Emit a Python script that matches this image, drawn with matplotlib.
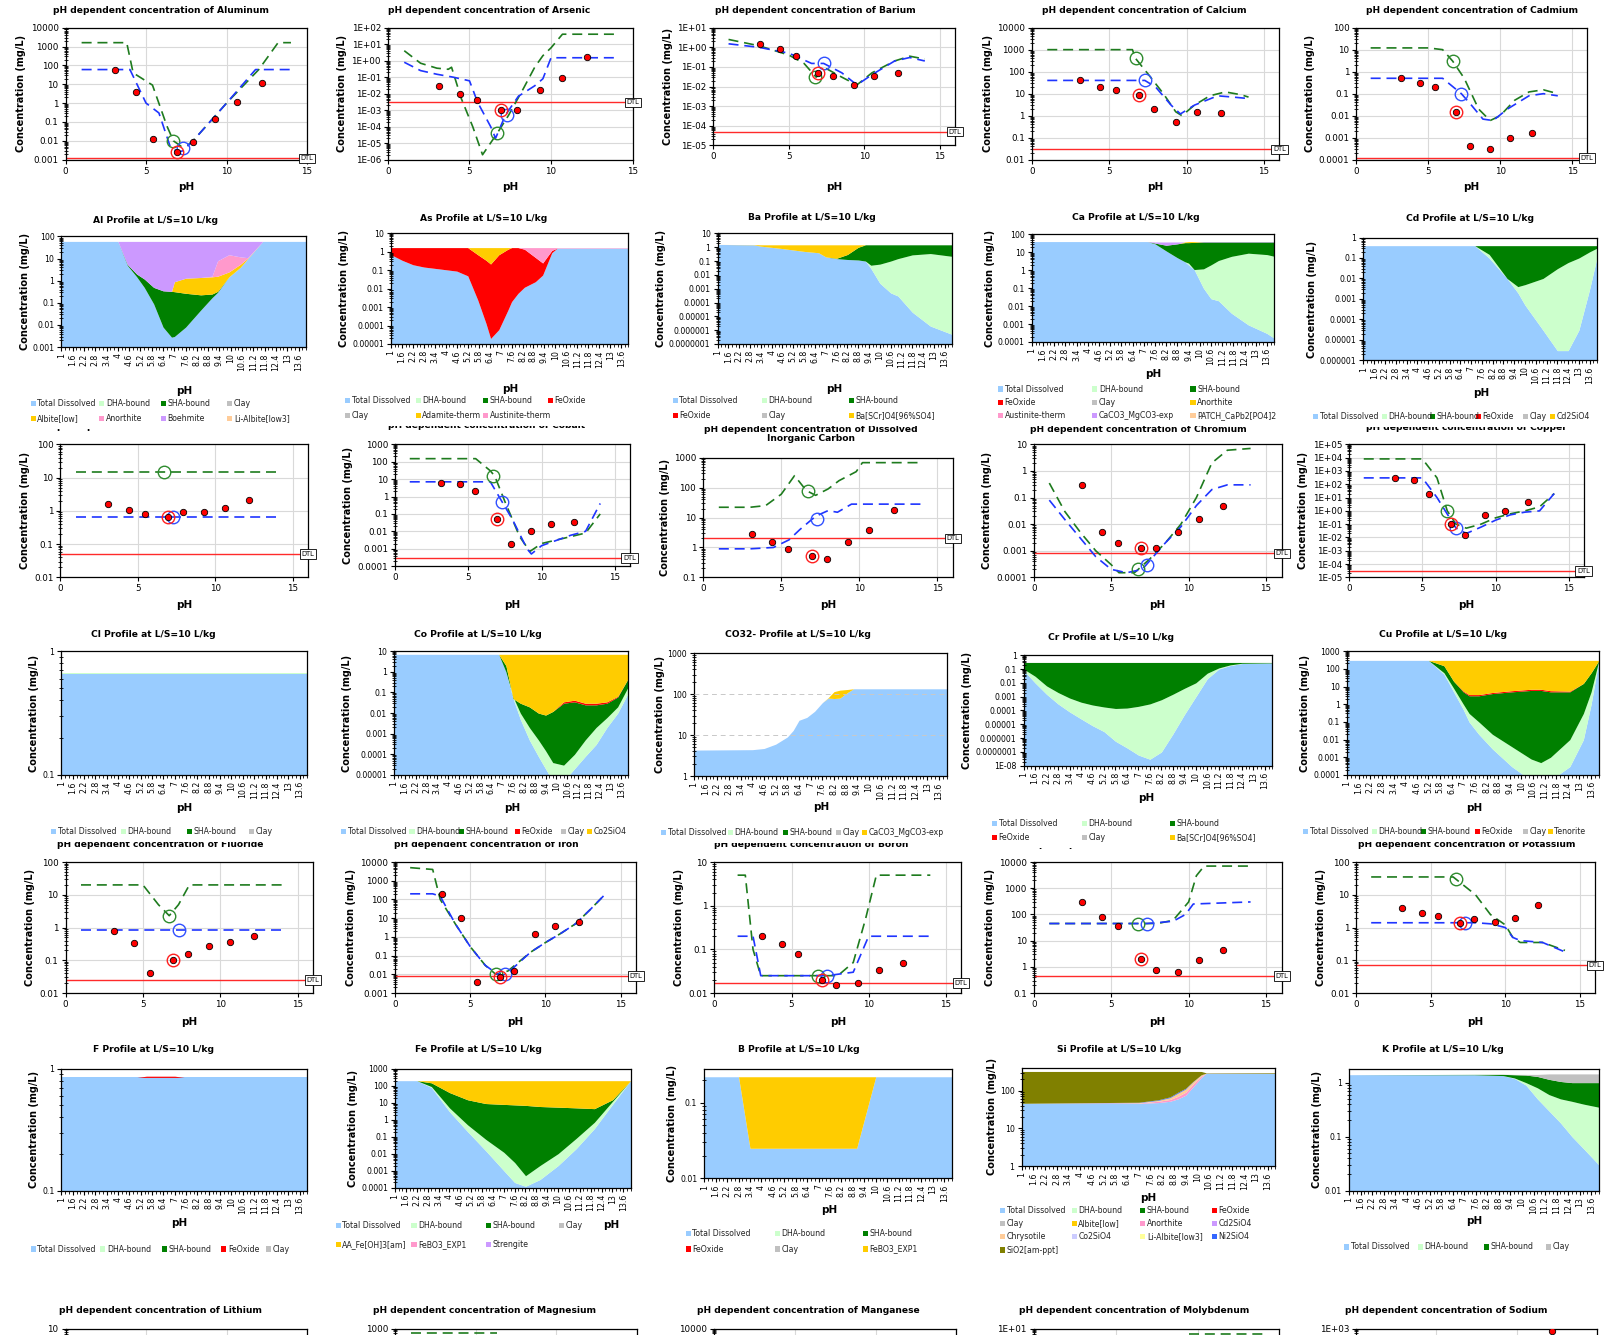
import numpy as np
import matplotlib
matplotlib.use("Agg")
import matplotlib.pyplot as plt
from matplotlib.patches import Rectangle
from matplotlib.ticker import FixedLocator, FuncFormatter, NullFormatter

# ---------------------------------------------------------------- data
# pH of the measured leachates (red dots)
ph_meas = [3.1, 4.4, 5.45, 6.95, 7.9, 9.3, 10.65, 12.2]

# --- pH dependent concentration panels: model lines (green / blue), measured, circles, DTL
al_g_ph = [1, 3.8, 4.2, 5.4, 6.3, 6.7, 7.2, 7.6, 8.0, 10.0, 12.0, 13.2, 14]
al_g = [1600, 1600, 40, 9, 0.06, 0.01, 0.005, 0.006, 0.012, 1, 60, 1600, 1600]
al_b_ph = [1, 4.0, 5.0, 5.8, 6.5, 7.0, 7.3, 8.0, 10.0, 11.8, 14]
al_b = [60, 60, 1, 0.3, 0.005, 0.0025, 0.003, 0.012, 1, 60, 60]
al_meas = [60, 4, 0.013, 0.0025, 0.009, 0.15, 1.2, 12]
al_circ = [0.01, 0.004]
al_dtl = 0.0012

as_g_ph = [1, 2, 3, 3.7, 3.9, 4.5, 5.2, 5.8, 6.7, 7.4, 8.3, 9.0, 9.5, 10.0, 10.7, 14]
as_g = [4, 0.7, 0.35, 0.3, 0.4, 0.005, 1e-4, 2e-6, 4e-5, 5e-4, 0.02, 0.4, 2, 6, 40, 40]
as_b_ph = [1, 2, 3, 4, 5, 5.5, 6.3, 6.6, 7.2, 8.0, 9.0, 9.5, 10.0, 14]
as_b = [0.8, 0.25, 0.15, 0.1, 0.06, 0.003, 1e-4, 2e-5, 5e-4, 0.007, 0.03, 0.08, 1.5, 1.5]
as_meas = [0.03, 0.009, 0.004, 0.0011, 0.0011, 0.016, 0.09, 1.7]
as_circ = [4e-5, 5e-4]
as_dtl = 0.003

ba_g_ph = [1, 3, 5, 6, 6.8, 7.5, 8.5, 9.5, 10.5, 12, 13, 14]
ba_g = [2.5, 1.2, 0.4, 0.15, 0.03, 0.08, 0.03, 0.012, 0.05, 0.2, 0.35, 0.25]
ba_b_ph = [1, 3, 5, 6.5, 7.3, 8.5, 9.5, 10.5, 12, 13, 14]
ba_b = [1.5, 1.0, 0.5, 0.15, 0.15, 0.05, 0.012, 0.04, 0.2, 0.3, 0.2]
ba_meas = [1.5, 0.8, 0.35, 0.05, 0.035, 0.012, 0.035, 0.05]
ba_circ = [0.03, 0.15]
ba_dtl = 5e-5

ca_g_ph = [1, 6.5, 6.7, 7.5, 8.5, 9.3, 9.7, 10.5, 11.5, 12.5, 13.5, 14]
ca_g = [1000, 1000, 400, 80, 10, 1.5, 1.0, 3, 8, 12, 9, 7]
ca_b_ph = [1, 7.0, 7.3, 8.0, 9.0, 9.6, 10.5, 12, 13, 14]
ca_b = [40, 40, 40, 20, 3, 1.2, 3, 8, 7, 6]
ca_meas = [40, 20, 15, 9, 2, 0.5, 1.5, 1.3]
ca_circ = [400, 40]
ca_dtl = 0.03

cd_g_ph = [1, 5, 6, 6.7, 7.5, 8.5, 9.3, 10, 11, 12, 13, 14]
cd_g = [12, 12, 10, 3, 0.5, 0.02, 0.006, 0.01, 0.05, 0.12, 0.15, 0.1]
cd_b_ph = [1, 6, 7.3, 8, 8.8, 9.5, 10.5, 12, 13, 14]
cd_b = [0.5, 0.5, 0.1, 0.03, 0.007, 0.006, 0.02, 0.08, 0.1, 0.08]
cd_meas = [0.5, 0.3, 0.2, 0.015, 0.0004, 0.0003, 0.001, 0.0017]
cd_circ = [3, 0.1]
cd_dtl = 0.00012

cl_g_ph = [1, 14]
cl_g = [15, 15]
cl_b_ph = [1, 14]
cl_b = [0.65, 0.65]
cl_meas = [1.6, 1.05, 0.8, 0.65, 0.9, 0.9, 1.2, 2.1]
cl_circ = [15, 0.65]
cl_dtl = 0.05

co_g_ph = [1, 5.5, 6.5, 6.8, 7.5, 8.5, 9.2, 10, 12, 13, 14]
co_g = [150, 150, 30, 15, 0.5, 0.005, 0.0007, 0.002, 0.005, 0.008, 0.1]
co_b_ph = [1, 6.5, 7.3, 8, 9, 9.3, 10, 12, 13, 14]
co_b = [7, 7, 0.5, 0.05, 0.001, 0.0005, 0.0015, 0.006, 0.01, 0.4]
co_meas = [6, 5, 2, 0.05, 0.002, 0.01, 0.025, 0.035]
co_circ = [15, 0.5]
co_dtl = 0.0003

dic_g_ph = [1, 3, 4, 5, 5.85, 6.6, 7.2, 8.0, 8.7, 9.8, 10.2, 14]
dic_g = [22, 22, 25, 60, 250, 80, 55, 90, 170, 340, 680, 680]
dic_b_ph = [1, 3, 4.5, 5.5, 6.2, 7.0, 7.5, 8.0, 8.6, 9.5, 14]
dic_b = [0.9, 0.9, 1.0, 1.8, 4, 9, 13, 17, 15, 28, 28]
dic_meas = [2.8, 1.5, 0.9, 0.5, 0.4, 1.5, 3.8, 18]
dic_circ = [75, 9]
dic_dtl = 2

cr_g_ph = [1, 2, 3, 4, 5, 5.5, 6.5, 7.5, 8.5, 9.5, 10.5, 11.5, 12.5, 14]
cr_g = [0.35, 0.03, 0.005, 0.001, 0.0003, 0.00015, 0.00015, 0.0005, 0.002, 0.01, 0.1, 2, 6, 7]
cr_b_ph = [1, 2, 3, 4, 5, 6, 7, 8.5, 9.5, 10.5, 11.5, 12.5, 14]
cr_b = [0.08, 0.015, 0.003, 0.0006, 0.0002, 0.00015, 0.0002, 0.002, 0.008, 0.05, 0.2, 0.3, 0.3]
cr_meas = [0.3, 0.005, 0.002, 0.0013, 0.0013, 0.005, 0.015, 0.05]
cr_circ = [0.0002, 0.0003]
cr_dtl = 0.0008

cu_g_ph = [1, 5, 6, 6.7, 7.3, 8, 9, 10, 11, 12, 13, 14]
cu_g = [8000, 8000, 300, 1, 0.1, 0.05, 0.1, 0.3, 0.6, 1, 2, 20]
cu_b_ph = [1, 5, 6, 7.3, 8, 9, 10, 11, 12, 13, 14]
cu_b = [300, 300, 10, 0.05, 0.02, 0.06, 0.2, 0.5, 0.8, 1, 20]
cu_meas = [300, 200, 20, 0.1, 0.015, 0.5, 1, 5]
cu_circ = [1, 0.05]
cu_dtl = 3e-5

f_g_ph = [1, 5, 6, 6.7, 7.3, 8, 14]
f_g = [20, 20, 5, 2.3, 5, 20, 20]
f_b_ph = [1, 14]
f_b = [0.85, 0.85]
f_meas = [0.8, 0.33, 0.04, 0.1, 0.16, 0.28, 0.35, 0.55]
f_circ = [2.3, 0.85]
f_dtl = 0.025

fe_g_ph = [1, 2.5, 3, 4, 5, 6, 6.7, 7.5, 9, 10, 11, 12, 13, 14]
fe_g = [5000, 4000, 100, 5, 0.3, 0.03, 0.01, 0.015, 0.15, 0.5, 1.5, 5, 30, 200]
fe_b_ph = [1, 2.5, 3, 4, 5, 6, 7, 7.5, 9, 10, 11, 12, 13, 14]
fe_b = [200, 200, 150, 5, 0.3, 0.03, 0.008, 0.012, 0.15, 0.5, 1.5, 5, 30, 200]
fe_meas = [200, 10, 0.004, 0.007, 0.015, 1.5, 4, 6]
fe_circ = [0.01, 0.01]
fe_dtl = 0.008

b_g_ph = [1.5, 2, 2.5, 3, 6.7, 8, 9, 9.8, 10.5, 14]
b_g = [5, 5, 0.1, 0.025, 0.025, 0.025, 0.05, 0.5, 5, 5]
b_b_ph = [1.5, 2.5, 3, 7.3, 9, 10, 14]
b_b = [0.2, 0.2, 0.025, 0.025, 0.03, 0.2, 0.2]
b_meas = [0.2, 0.13, 0.08, 0.02, 0.015, 0.017, 0.033, 0.05]
b_circ = [0.025, 0.025]
b_dtl = 0.017

si_g_ph = [1, 8, 9, 10, 10.5, 11, 14]
si_g = [45, 45, 60, 300, 3000, 7000, 7000]
si_b_ph = [1, 7.3, 9, 9.8, 10.3, 14]
si_b = [45, 45, 55, 100, 250, 300]
si_meas = [300, 80, 35, 2, 0.75, 0.65, 1.8, 4.5]
si_circ = [45, 45]
si_dtl = 0.45

k_g_ph = [1, 6.5, 8, 9, 10, 10.5, 11, 12.5, 14]
k_g = [35, 35, 10, 2.5, 1.2, 0.5, 0.35, 0.35, 0.2]
k_b_ph = [1, 8, 9, 10, 10.5, 11, 12.5, 14]
k_b = [1.4, 1.4, 1.3, 1.0, 0.5, 0.4, 0.35, 0.18]
k_meas = [4, 2.8, 2.3, 1.4, 1.8, 1.5, 2, 5]
k_circ = [30, 1.4]
k_dtl = 0.07

# bottom row, only the top edge is inside the picture
mg_g_ph = [1, 6.3]
mg_g = [700, 700]
mo_g_ph = [9.5, 14]
mo_g = [6, 6]
na_meas_ph = [12.2]
na_meas = [800]

# --- profiles at L/S=10 L/kg: upper edge of each stacked layer (mg/L)
al_px = [1, 4.0, 4.5, 5.0, 5.4, 5.9, 6.4, 6.85, 7.0, 7.6, 8.4, 9.0, 9.3, 9.9, 10.5, 10.9, 11.7, 14]
al_td = [60, 60, 5, 1.5, 0.5, 0.09, 0.008, 0.0028, 0.003, 0.008, 0.047, 0.17, 0.3, 1.5, 4, 10, 60, 60]
al_sha = [60, 60, 5.5, 2, 1.2, 0.5, 0.35, 0.33, 0.32, 0.27, 0.23, 0.25, 0.33, 1.5, 4, 10, 60, 60]
al_albite = [60, 60, 5.5, 2, 1.2, 0.5, 0.35, 0.33, 0.9, 1.3, 1.4, 1.5, 1.6, 2.5, 5.5, 10.5, 60, 60]
al_anorth = [60, 60, 5.5, 2, 1.2, 0.5, 0.35, 0.33, 0.9, 1.3, 1.4, 1.6, 8, 15, 12, 11, 60, 60]
al_boehm = [60] * 18

as_px = [1, 1.6, 2.2, 2.8, 3.6, 4.6, 5.2, 5.75, 6.2, 6.45, 6.9, 7.4, 7.6, 7.95, 8.3, 8.9, 9.3, 9.8, 10.1, 14]
as_td = [0.7, 0.35, 0.2, 0.15, 0.12, 0.09, 0.05, 0.0024, 1.3e-4, 2e-5, 6e-5, 7e-4, 0.002, 0.0056, 0.012, 0.024, 0.055, 0.9, 1.6, 1.6]
as_feox = [1.7, 1.7, 1.7, 1.7, 1.7, 1.7, 1.7, 0.7, 0.35, 0.22, 0.7, 1.4, 1.7, 1.7, 1.4, 0.5, 0.25, 1.2, 1.6, 1.6]
as_adam = [1.7, 1.7, 1.7, 1.7, 1.7, 1.7, 1.7, 1.7, 1.7, 1.7, 1.7, 1.7, 1.7, 1.7, 1.4, 0.5, 0.25, 1.2, 1.6, 1.6]
as_aust = [1.7] * 20

ba_px = [1, 3, 3.4, 4.6, 5.8, 6.6, 7.0, 7.6, 8.2, 8.8, 9.2, 9.5, 10.0, 10.6, 11.0, 11.8, 12.8, 14]
ba_td = [1.6, 1.5, 1.2, 0.8, 0.5, 0.4, 0.2, 0.15, 0.13, 0.12, 0.1, 0.03, 0.0025, 5e-4, 3e-4, 2e-5, 2e-6, 5e-7]
ba_dha = [1.6, 1.5, 1.2, 0.8, 0.5, 0.4, 0.2, 0.15, 0.13, 0.12, 0.1, 0.05, 0.06, 0.1, 0.15, 0.28, 0.35, 0.22]
ba_sha = [1.6, 1.5, 1.2, 0.8, 0.5, 0.4, 0.2, 0.16, 0.3, 1.0, 1.5, 1.5, 1.5, 1.5, 1.5, 1.5, 1.5, 1.5]
ba_barite = [1.6, 1.55, 1.5, 1.5, 1.5, 1.5, 1.5, 1.5, 1.5, 1.5, 1.5, 1.5, 1.5, 1.5, 1.5, 1.5, 1.5, 1.5]

ca_px = [1, 7.2, 7.6, 8.2, 8.8, 9.2, 9.4, 9.7, 10.2, 10.6, 11.0, 11.7, 12.6, 13.6, 14]
ca_td = [40, 40, 30, 12, 5, 3, 2, 1.1, 0.1, 0.026, 0.02, 0.004, 0.0009, 0.0003, 0.00016]
ca_dha = [40, 40, 30, 12, 5, 3, 2.5, 1.1, 1.2, 2, 3.5, 6, 9, 7.5, 6]
ca_sha = [40, 40, 33, 25, 30, 35, 35, 36, 38, 38, 38, 38, 38, 38, 38]
ca_anorth = [40, 40, 33, 25, 30, 38, 40, 40, 38, 38, 38, 38, 38, 38, 38]
ca_caco3 = [40, 40, 38, 38, 38, 38, 40, 40, 40, 40, 40, 40, 40, 40, 40]

cd_px = [1, 7.2, 8.0, 9.0, 9.6, 10.0, 11.0, 11.8, 12.4, 13.0, 13.6, 14]
cd_td = [0.4, 0.4, 0.1, 0.01, 0.002, 0.0005, 3e-5, 3e-6, 3e-6, 3e-5, 0.003, 0.1]
cd_dha = [0.4, 0.4, 0.15, 0.01, 0.004, 0.005, 0.01, 0.03, 0.06, 0.1, 0.2, 0.3]
cd_sha = [0.4] * 12

cl_px = [1, 14]
cl_td = [0.65, 0.65]
cl_dha = [0.66, 0.66]

co_px = [1, 6.8, 7.2, 7.6, 8.0, 8.5, 9.0, 9.4, 9.8, 10.4, 11.0, 11.6, 12.2, 12.8, 13.4, 14]
co_td = [7, 7, 1, 0.05, 0.005, 5e-4, 8e-5, 2e-5, 5e-6, 5e-6, 2e-5, 8e-5, 3e-4, 0.002, 0.01, 0.1]
co_dha = [7, 7, 1, 0.06, 0.01, 0.002, 5e-4, 1.5e-4, 4e-5, 3e-5, 1e-4, 5e-4, 0.002, 0.006, 0.02, 0.2]
co_sha = [7, 7, 2, 0.05, 0.03, 0.02, 0.01, 0.008, 0.012, 0.03, 0.035, 0.025, 0.025, 0.03, 0.06, 0.5]
co_feox = [7, 7, 2, 0.05, 0.03, 0.02, 0.01, 0.008, 0.012, 0.035, 0.042, 0.03, 0.03, 0.035, 0.065, 0.5]
co_co2sio4 = [7] * 16

co3_px = [1, 4, 4.6, 5.2, 5.8, 6.1, 6.4, 6.8, 7.2, 7.6, 7.9, 8.2, 8.5, 8.9, 9.2, 14]
co3_td = [4.3, 4.4, 4.7, 6, 9, 13, 23, 27, 38, 62, 80, 78, 80, 110, 135, 135]
co3_caco3 = [4.3, 4.4, 4.7, 6, 9, 13, 23, 27, 38, 62, 82, 115, 125, 130, 135, 135]

cr_px = [1, 1.6, 2.2, 2.8, 3.4, 4, 4.6, 5.2, 5.8, 6.4, 7, 7.6, 8.2, 8.8, 9.4, 10, 10.6, 11.2, 11.8, 12.4, 14]
cr_td = [0.08, 0.01, 0.0015, 3e-4, 8e-5, 2.5e-5, 8e-6, 3e-6, 6e-7, 2e-7, 6e-8, 3e-8, 1e-7, 2e-6, 5e-5, 1e-3,
         0.02, 0.1, 0.18, 0.25, 0.28]
cr_dha = [0.1, 0.03, 0.006, 0.002, 8e-4, 4e-4, 2.5e-4, 1.8e-4, 1.4e-4, 1.5e-4, 2e-4, 3e-4, 6e-4, 1.5e-3, 4e-3,
          0.01, 0.05, 0.12, 0.2, 0.26, 0.28]
cr_sha = [0.3] * 21

cu_px = [1, 5.2, 6, 6.5, 7, 7.3, 7.8, 8.5, 9.5, 10.5, 11, 11.5, 12.5, 13.2, 13.6, 14]
cu_td = [300, 300, 50, 5, 0.5, 0.1, 0.02, 0.003, 3e-4, 5e-5, 3e-5, 5e-5, 3e-4, 0.01, 1, 300]
cu_dha = [300, 300, 60, 8, 1, 0.3, 0.1, 0.02, 0.004, 0.0008, 0.0005, 0.001, 0.01, 0.3, 5, 300]
cu_sha = [300, 300, 150, 20, 5, 3, 3, 4, 5, 6, 6, 5, 5, 15, 60, 300]
cu_feox = [300, 300, 150, 20, 5.5, 3.5, 3.5, 4.6, 5.8, 7, 7, 5.8, 5.5, 15, 60, 300]
cu_tenor = [300] * 16

f_px = [1, 5, 5.5, 7, 7.5, 14]
f_td = [0.85, 0.85, 0.85, 0.85, 0.85, 0.85]
f_feox = [0.85, 0.85, 0.87, 0.87, 0.85, 0.85]

fe_px = [1, 2.2, 3, 4, 5, 6, 7, 7.6, 8.2, 9, 10, 11, 12, 13, 14]
fe_td = [200, 200, 80, 3, 0.2, 0.015, 0.001, 0.0002, 0.00012, 0.0003, 0.002, 0.02, 0.3, 8, 200]
fe_dha = [200, 200, 90, 5, 0.5, 0.07, 0.012, 0.003, 0.0005, 0.002, 0.01, 0.08, 0.7, 12, 200]
fe_sha = [200, 200, 150, 40, 15, 9, 8, 7.5, 7, 6, 5.5, 5, 4.5, 15, 200]
fe_aa = [200] * 15

b_px = [1, 2.8, 3.4, 9.0, 10.0, 14]
b_td = [0.22, 0.22, 0.025, 0.025, 0.22, 0.22]
b_febo3 = [0.22] * 6

si_px = [1, 7, 8.0, 8.6, 9.0, 9.4, 9.8, 10.2, 10.45, 14]
si_td = [46, 46, 48, 52, 60, 75, 128, 220, 285, 285]
si_anorth = [46, 47, 52, 58, 70, 90, 150, 240, 287, 287]
si_chrys = [46, 48, 55, 65, 85, 110, 175, 260, 288, 288]
si_ni = [46, 49, 57, 68, 90, 115, 178, 262, 289, 289]
si_sio2 = [320, 320, 320, 320, 320, 320, 320, 320, 295, 300]

k_px = [1, 7.5, 9, 9.6, 10.2, 10.8, 11.4, 12, 12.6, 13.2, 14]
k_td = [1.4, 1.4, 1.35, 1.2, 0.9, 0.5, 0.3, 0.18, 0.1, 0.06, 0.03]
k_dha = [1.4, 1.4, 1.35, 1.22, 1.0, 0.8, 0.6, 0.5, 0.45, 0.4, 0.35]
k_sha = [1.4, 1.42, 1.42, 1.4, 1.38, 1.3, 1.15, 1.05, 1.0, 1.0, 1.0]
k_clay = [1.4, 1.42, 1.43, 1.42, 1.42, 1.42, 1.45, 1.45, 1.45, 1.45, 1.45]

# ---------------------------------------------------------------- colours
TD, DHA, SHA, FEOX, CLAY = "#99CCFF", "#CCFFCC", "#008000", "#FF0000", "#C0C0C0"
YEL, PINK, LAV, PEACH = "#FFCC00", "#FF99CC", "#CC99FF", "#FFCC99"
LYEL, LBLUE, NIB, OLIVE = "#FFFF99", "#CCCCFF", "#3366FF", "#808000"
GREEN_L, BLUE_L = "#1E7B1E", "#1F35FF"

# ---------------------------------------------------------------- layout helpers
W, H = 1568.0, 1304.0   # positions below in these units
fig = plt.figure(figsize=(16.05, 13.35), dpi=100)
fig.patch.set_facecolor("white")


def rect(l, t, r, b):
    return [l / W, 1 - b / H, (r - l) / W, (b - t) / H]


def fxy(x, y):
    return x / W, 1 - y / H


def fmt_sci(v, pos=None):
    return f"1E{int(round(np.log10(v))):+03d}"


def fmt_plain(v, pos=None):
    if v < 1e-7 * 0.99:
        return fmt_sci(v)
    if v >= 1:
        return f"{v:.0f}"
    n = int(round(-np.log10(v)))
    return f"{v:.{n}f}"


def log_axis(ax, ylim, sci, size, top_only=False):
    lo, hi = np.log10(ylim[0]), np.log10(ylim[1])
    dec = 10.0 ** np.arange(np.floor(lo + 1e-9), np.floor(hi + 1e-9) + 1)
    minors = [d * s for d in dec for s in range(2, 10) if ylim[0] < d * s < ylim[1]]
    base = fmt_sci if sci else fmt_plain
    if top_only:
        fmt = lambda v, pos=None: base(v) if abs(np.log10(v) - hi) < 1e-6 else ""
    else:
        fmt = base
    ax.yaxis.set_major_locator(FixedLocator(dec))
    ax.yaxis.set_minor_locator(FixedLocator(minors))
    ax.yaxis.set_major_formatter(FuncFormatter(fmt))
    ax.yaxis.set_minor_formatter(NullFormatter())
    ax.tick_params(axis="y", which="major", labelsize=size, length=3, width=0.8, pad=2)
    ax.tick_params(axis="y", which="minor", length=2.5, width=0.6, direction="inout")
    for s in ax.spines.values():
        s.set_linewidth(0.9)


def title(text, xy, size=6.6):
    fig.text(*fxy(*xy), text, ha="center", va="center", fontsize=size,
             fontweight="bold", zorder=1.5, linespacing=1.1)


def xlabel(xy):
    fig.text(*fxy(*xy), "pH", ha="center", va="center", fontsize=7.5,
             fontweight="bold", zorder=4)


def line_panel(box, ylim, xmax, sci, name, title_xy, xlab_y, green=None, blue=None,
               meas=None, circ=None, dtl=None, meas_ph=ph_meas, cut=False):
    ax = fig.add_axes(rect(*box))
    ax.set_yscale("log")
    ax.set_xlim(0, xmax)
    ax.set_ylim(*ylim)
    log_axis(ax, ylim, sci, 6.3, top_only=cut)
    ax.set_xticks([0, 5, 10, 15])
    ax.tick_params(axis="x", labelsize=6.3, length=3, pad=2, labelbottom=not cut)
    ax.grid(True, which="major", color="#D9D9D9", lw=0.8)
    ax.set_axisbelow(True)
    if dtl is not None:
        ax.axhline(dtl, color="#FF2A2A", lw=1.0, zorder=2)
        ax.annotate("DTL", xy=(1, dtl), xycoords=("axes fraction", "data"), ha="center",
                    va="center", fontsize=4.8, annotation_clip=False, zorder=6,
                    bbox=dict(boxstyle="square,pad=0.25", fc="white", ec="black", lw=0.6))
    dash = (0, (6, 3.5))
    if green is not None:
        ax.plot(green[0], green[1], color=GREEN_L, lw=1.2, ls=dash, zorder=3)
    if blue is not None:
        ax.plot(blue[0], blue[1], color=BLUE_L, lw=1.2, ls=dash, zorder=3)
    if circ is not None:
        ax.plot([6.7], [circ[0]], "o", ms=9, mfc="none", mec="#2E8B2E", mew=1.0, zorder=4)
        ax.plot([7.3], [circ[1]], "o", ms=9, mfc="none", mec="#3050FF", mew=1.0, zorder=4)
    if meas is not None:
        ax.plot(meas_ph, meas, "o", ms=4.6, mfc="#FF0000", mec="black", mew=0.6,
                ls="none", zorder=5)
        if len(meas) > 3:
            ax.plot([meas_ph[3]], [meas[3]], "o", ms=9, mfc="none", mec="#FF2020",
                    mew=1.0, zorder=5)
    title(name, title_xy)
    if not cut:
        ax.set_ylabel("Concentration (mg/L)", fontsize=7, fontweight="bold", labelpad=3)
        xlabel(((box[0] + box[2]) / 2, xlab_y))
    return ax


def legend(entries, xs, ys):
    x0, x1 = xs[0] - 7, xs[-1] + 82
    y0, y1 = ys[0] - 8, ys[-1] + 10
    fig.patches.append(Rectangle(fxy(x0, y1), (x1 - x0) / W, (y1 - y0) / H,
                                 transform=fig.transFigure, fc="white", ec="none", zorder=2))
    for i, (lab, col) in enumerate(entries):
        x = xs[i % len(xs)]
        y = ys[i // len(xs)]
        fig.patches.append(Rectangle(fxy(x, y + 2.5), 5 / W, 5 / H, transform=fig.transFigure,
                                     fc=col, ec="none", zorder=3))
        fig.text(*fxy(x + 6.5, y), lab, fontsize=5.6, ha="left", va="center", zorder=3,
                 color="#222222")


def profile_panel(box, ylim, x, layers, name, title_xy, xlab_xy, entries, xs, ys,
                  dashed=None):
    ax = fig.add_axes(rect(*box))
    ax.set_yscale("log")
    prev = [ylim[0]] * len(x)
    for top, col in layers:
        ax.fill_between(x, prev, top, color=col, lw=0)
        prev = top
    ax.set_xlim(1, 14)
    ax.set_ylim(*ylim)
    log_axis(ax, ylim, False, 5.6)
    if dashed:
        for v in dashed:
            ax.axhline(v, color="#C8C8C8", lw=0.7, ls=(0, (5, 4)), zorder=3)
    major = np.round(np.arange(1, 13.7, 0.6), 1)
    ax.set_xticks(major)
    ax.set_xticklabels([f"{v:g}" for v in major], rotation=90)
    ax.set_xticks(np.round(np.arange(1, 14.01, 0.2), 1), minor=True)
    ax.tick_params(axis="x", which="major", labelsize=5.6, length=3, pad=1.5)
    ax.tick_params(axis="x", which="minor", length=2)
    ax.set_ylabel("Concentration (mg/L)", fontsize=7, fontweight="bold", labelpad=2)
    title(name, title_xy)
    xlabel(xlab_xy)
    legend(entries, xs, ys)
    return ax


# ---------------------------------------------------------------- row 1
line_panel((64, 27, 300, 156), (0.001, 10000), 15, False, "pH dependent concentration of Aluminum",
           (157, 10), 183, (al_g_ph, al_g), (al_b_ph, al_b), al_meas, al_circ, al_dtl)
line_panel((379, 27, 618, 156), (1e-6, 1e2), 15, True, "pH dependent concentration of Arsenic",
           (478, 10), 183, (as_g_ph, as_g), (as_b_ph, as_b), as_meas, as_circ, as_dtl)
line_panel((697, 27, 933, 142), (1e-5, 1e1), 16, True, "pH dependent concentration of Barium",
           (797, 10), 183, (ba_g_ph, ba_g), (ba_b_ph, ba_b), ba_meas, ba_circ, ba_dtl)
line_panel((1008, 27, 1250, 156), (0.01, 10000), 16, False, "pH dependent concentration of Calcium",
           (1118, 10), 183, (ca_g_ph, ca_g), (ca_b_ph, ca_b), ca_meas, ca_circ, ca_dtl)
line_panel((1325, 27, 1550, 156), (0.0001, 100), 16, False, "pH dependent concentration of Cadmium",
           (1438, 10), 183, (cd_g_ph, cd_g), (cd_b_ph, cd_b), cd_meas, cd_circ, cd_dtl)

# ---------------------------------------------------------------- row 3
line_panel((59, 434, 301, 564), (0.01, 100), 16, False, "pH dependent concentration of Chloride",
           (157, 417), 591, (cl_g_ph, cl_g), (cl_b_ph, cl_b), cl_meas, cl_circ, cl_dtl)
line_panel((386, 434, 615, 553), (0.0001, 1000), 16, False, "pH dependent concentration of Cobalt",
           (475, 416), 591, (co_g_ph, co_g), (co_b_ph, co_b), co_meas, co_circ, co_dtl)
line_panel((687, 447, 931, 564), (0.1, 1000), 16, False,
           "pH dependent concentration of Dissolved\nInorganic Carbon",
           (792, 424), 591, (dic_g_ph, dic_g), (dic_b_ph, dic_b), dic_meas, dic_circ, dic_dtl)
line_panel((1010, 434, 1252, 564), (0.0001, 10), 16, False, "pH dependent concentration of Chromium",
           (1112, 420), 591, (cr_g_ph, cr_g), (cr_b_ph, cr_b), cr_meas, cr_circ, cr_dtl)
line_panel((1318, 434, 1547, 564), (1e-5, 1e5), 16, True, "pH dependent concentration of Copper",
           (1433, 418), 591, (cu_g_ph, cu_g), (cu_b_ph, cu_b), cu_meas, cu_circ, cu_dtl)

# ---------------------------------------------------------------- row 5
line_panel((64, 842, 306, 970), (0.01, 100), 16, False, "pH dependent concentration of Fluoride",
           (157, 825), 998, (f_g_ph, f_g), (f_b_ph, f_b), f_meas, f_circ, f_dtl)
line_panel((386, 842, 621, 970), (0.001, 10000), 16, False, "pH dependent concentration of Iron",
           (475, 825), 998, (fe_g_ph, fe_g), (fe_b_ph, fe_b), fe_meas, fe_circ, fe_dtl)
line_panel((698, 842, 939, 970), (0.01, 10), 16, False, "pH dependent concentration of Boron",
           (792, 825), 998, (b_g_ph, b_g), (b_b_ph, b_b), b_meas, b_circ, b_dtl)
line_panel((1010, 842, 1252, 970), (0.1, 10000), 16, False, "pH dependent concentration of Silicon",
           (1112, 825), 998, (si_g_ph, si_g), (si_b_ph, si_b), si_meas, si_circ, si_dtl)
line_panel((1325, 842, 1558, 970), (0.01, 100), 16, False, "pH dependent concentration of Potassium",
           (1433, 825), 998, (k_g_ph, k_g), (k_b_ph, k_b), k_meas, k_circ, k_dtl)

# ---------------------------------------------------------------- row 7 (cut off by the page)
line_panel((64, 1298, 300, 1428), (0.001, 10), 15, False, "pH dependent concentration of Lithium",
           (157, 1280), 1460, cut=True)
line_panel((386, 1298, 622, 1428), (0.01, 1000), 15, False, "pH dependent concentration of Magnesium",
           (473, 1280), 1460, green=(mg_g_ph, mg_g), cut=True)
line_panel((698, 1298, 934, 1428), (0.001, 10000), 15, False, "pH dependent concentration of Manganese",
           (790, 1280), 1460, cut=True)
line_panel((1010, 1298, 1250, 1428), (1e-5, 1e1), 15, True, "pH dependent concentration of Molybdenum",
           (1108, 1280), 1460, green=(mo_g_ph, mo_g), cut=True)
line_panel((1325, 1298, 1560, 1428), (1e-2, 1e3), 15, True, "pH dependent concentration of Sodium",
           (1413, 1280), 1460, meas=na_meas, meas_ph=na_meas_ph, cut=True)

# ---------------------------------------------------------------- row 2 profiles
profile_panel((60, 231, 299, 339), (0.001, 100), al_px,
              [(al_td, TD), (al_sha, SHA), (al_albite, YEL), (al_anorth, PINK), (al_boehm, LAV)],
              "Al Profile at L/S=10 L/kg", (152, 215), (180, 382),
              [("Total Dissolved", TD), ("DHA-bound", DHA), ("SHA-bound", SHA), ("Clay", CLAY),
               ("Albite[low]", YEL), ("Anorthite", PINK), ("Boehmite", LAV), ("Li-Albite[low3]", PEACH)],
              [30, 97, 157, 222], [394, 409])
profile_panel((382, 228, 614, 336), (0.00001, 10), as_px,
              [(as_td, TD), (as_feox, FEOX), (as_adam, YEL), (as_aust, PINK)],
              "As Profile at L/S=10 L/kg", (472, 213), (498, 380),
              [("Total Dissolved", TD), ("DHA-bound", DHA), ("SHA-bound", SHA), ("FeOxide", FEOX),
               ("Clay", CLAY), ("Adamite-therm", YEL), ("Austinite-therm", PINK)],
              [337, 406, 472, 535], [391, 406])
profile_panel((701, 228, 930, 336), (1e-7, 10), ba_px,
              [(ba_td, TD), (ba_dha, DHA), (ba_sha, SHA), (ba_barite, YEL)],
              "Ba Profile at L/S=10 L/kg", (793, 212), (815, 380),
              [("Total Dissolved", TD), ("DHA-bound", DHA), ("SHA-bound", SHA),
               ("FeOxide", FEOX), ("Clay", CLAY), ("Ba[SCr]O4[96%SO4]", YEL)],
              [657, 744, 829], [391, 406])
profile_panel((1008, 229, 1245, 334), (0.0001, 100), ca_px,
              [(ca_td, TD), (ca_dha, DHA), (ca_sha, SHA), (ca_anorth, YEL), (ca_caco3, LAV)],
              "Ca Profile at L/S=10 L/kg", (1110, 212), (1127, 365),
              [("Total Dissolved", TD), ("DHA-bound", DHA), ("SHA-bound", SHA),
               ("FeOxide", FEOX), ("Clay", CLAY), ("Anorthite", YEL),
               ("Austinite-therm", PINK), ("CaCO3_MgCO3-exp", LAV), ("PATCH_CaPb2[PO4]2", PEACH)],
              [975, 1067, 1163], [380, 393, 406])
profile_panel((1332, 232, 1560, 352), (1e-6, 1), cd_px,
              [(cd_td, TD), (cd_dha, DHA), (cd_sha, SHA)],
              "Cd Profile at L/S=10 L/kg", (1436, 213), (1447, 384),
              [("Total Dissolved", TD), ("DHA-bound", DHA), ("SHA-bound", SHA), ("FeOxide", FEOX),
               ("Clay", CLAY), ("Cd2SiO4", YEL)],
              [1283, 1350, 1397, 1442, 1488, 1514], [407])

# ---------------------------------------------------------------- row 4 profiles
profile_panel((60, 636, 300, 757), (0.1, 1), cl_px,
              [(cl_td, TD), (cl_dha, DHA)],
              "Cl Profile at L/S=10 L/kg", (150, 620), (180, 789),
              [("Total Dissolved", TD), ("DHA-bound", DHA), ("SHA-bound", SHA), ("Clay", CLAY)],
              [50, 118, 183, 243], [812])
profile_panel((385, 636, 614, 757), (0.00001, 10), co_px,
              [(co_td, TD), (co_dha, DHA), (co_sha, SHA), (co_feox, FEOX), (co_co2sio4, YEL)],
              "Co Profile at L/S=10 L/kg", (467, 620), (500, 789),
              [("Total Dissolved", TD), ("DHA-bound", DHA), ("SHA-bound", SHA), ("FeOxide", FEOX),
               ("Clay", CLAY), ("Co2SiO4", YEL)],
              [333, 400, 448, 503, 548, 573], [812])
profile_panel((678, 638, 925, 758), (1, 1000), co3_px,
              [(co3_td, TD), (co3_caco3, YEL)],
              "CO32- Profile at L/S=10 L/kg", (780, 620), (802, 788),
              [("Total Dissolved", TD), ("DHA-bound", DHA), ("SHA-bound", SHA), ("Clay", CLAY),
               ("CaCO3_MgCO3-exp", YEL)],
              [646, 711, 765, 817, 842], [813], dashed=(10, 100))
profile_panel((1000, 640, 1243, 748), (1e-8, 1), cr_px,
              [(cr_td, TD), (cr_dha, DHA), (cr_sha, SHA)],
              "Cr Profile at L/S=10 L/kg", (1085, 623), (1120, 779),
              [("Total Dissolved", TD), ("DHA-bound", DHA), ("SHA-bound", SHA),
               ("FeOxide", FEOX), ("Clay", CLAY), ("Ba[SCr]O4[96%SO4]", YEL)],
              [969, 1057, 1143], [804, 818])
profile_panel((1316, 636, 1562, 757), (0.0001, 1000), cu_px,
              [(cu_td, TD), (cu_dha, DHA), (cu_sha, SHA), (cu_feox, FEOX), (cu_tenor, YEL)],
              "Cu Profile at L/S=10 L/kg", (1410, 620), (1440, 789),
              [("Total Dissolved", TD), ("DHA-bound", DHA), ("SHA-bound", SHA), ("FeOxide", FEOX),
               ("Clay", CLAY), ("Tenorite", YEL)],
              [1273, 1340, 1388, 1441, 1488, 1512], [812])

# ---------------------------------------------------------------- row 6 profiles
profile_panel((60, 1044, 300, 1163), (0.1, 1), f_px,
              [(f_td, TD), (f_feox, FEOX)],
              "F Profile at L/S=10 L/kg", (150, 1025), (175, 1195),
              [("Total Dissolved", TD), ("DHA-bound", DHA), ("SHA-bound", SHA), ("FeOxide", FEOX),
               ("Clay", CLAY)],
              [30, 98, 158, 216, 260], [1220])
profile_panel((386, 1044, 616, 1160), (0.0001, 1000), fe_px,
              [(fe_td, TD), (fe_dha, DHA), (fe_sha, SHA), (fe_aa, YEL)],
              "Fe Profile at L/S=10 L/kg", (467, 1025), (597, 1197),
              [("Total Dissolved", TD), ("DHA-bound", DHA), ("SHA-bound", SHA), ("Clay", CLAY),
               ("AA_Fe[OH]3[am]", YEL), ("FeBO3_EXP1", PINK), ("Strengite", LAV)],
              [328, 402, 475, 546], [1197, 1216])
profile_panel((688, 1044, 930, 1151), (0.01, 0.28), b_px,
              [(b_td, TD), (b_febo3, YEL)],
              "B Profile at L/S=10 L/kg", (780, 1025), (810, 1182),
              [("Total Dissolved", TD), ("DHA-bound", DHA), ("SHA-bound", SHA),
               ("FeOxide", FEOX), ("Clay", CLAY), ("FeBO3_EXP1", YEL)],
              [670, 757, 843], [1205, 1220])
profile_panel((998, 1043, 1246, 1139), (1, 400), si_px,
              [(si_td, TD), (si_anorth, PINK), (si_chrys, PEACH), (si_ni, NIB), (si_sio2, OLIVE)],
              "Si Profile at L/S=10 L/kg", (1093, 1025), (1122, 1170),
              [("Total Dissolved", TD), ("DHA-bound", DHA), ("SHA-bound", SHA), ("FeOxide", FEOX),
               ("Clay", CLAY), ("Albite[low]", YEL), ("Anorthite", PINK), ("Cd2SiO4", LAV),
               ("Chrysotile", PEACH), ("Co2SiO4", LBLUE), ("Li-Albite[low3]", LYEL), ("Ni2SiO4", NIB),
               ("SiO2[am-ppt]", OLIVE)],
              [977, 1047, 1114, 1184], [1182, 1195, 1208, 1221])
profile_panel((1318, 1044, 1562, 1163), (0.01, 1.8), k_px,
              [(k_td, TD), (k_dha, DHA), (k_sha, SHA), (k_clay, CLAY)],
              "K Profile at L/S=10 L/kg", (1410, 1025), (1440, 1193),
              [("Total Dissolved", TD), ("DHA-bound", DHA), ("SHA-bound", SHA), ("Clay", CLAY)],
              [1313, 1385, 1450, 1510], [1218])

fig.savefig("out.png", dpi=100, facecolor="white")
